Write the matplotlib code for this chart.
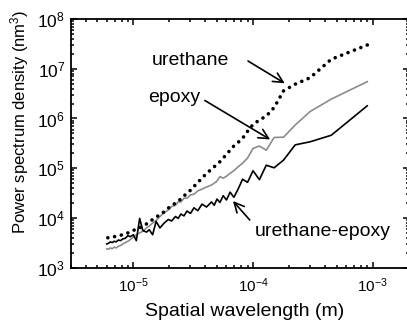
import matplotlib
matplotlib.use('Agg')
from matplotlib import pyplot as plt

plt.rcParams['font.family'] = ['Liberation Sans', 'DejaVu Sans']
plt.rcParams['mathtext.default'] = 'regular'
plt.rcParams['axes.unicode_minus'] = False

# spatial wavelength (m), shared by all three curves
wavelength = [9.0e-4, 4.5e-4, 3.0e-4, 2.25e-4, 1.8e-4, 1.5e-4, 1.29e-4, 1.13e-4, 1.0e-4,
              9.0e-5, 8.18e-5, 7.5e-5, 6.92e-5, 6.43e-5, 6.0e-5, 5.63e-5, 5.29e-5, 5.0e-5,
              4.74e-5, 4.5e-5, 4.09e-5, 3.75e-5, 3.46e-5, 3.21e-5, 3.0e-5, 2.81e-5, 2.65e-5,
              2.5e-5, 2.37e-5, 2.25e-5, 2.09e-5, 1.96e-5, 1.8e-5, 1.67e-5, 1.55e-5, 1.45e-5,
              1.36e-5, 1.29e-5, 1.2e-5, 1.13e-5, 1.06e-5, 1.0e-5, 9.47e-6, 9.0e-6, 8.57e-6,
              8.18e-6, 7.83e-6, 7.5e-6, 7.2e-6, 6.92e-6, 6.67e-6, 6.43e-6, 6.21e-6, 6.0e-6]

# power spectrum density (nm^3)
urethane = [3.0e7, 1.55e7, 6.6e6, 4.9e6, 3.6e6, 1.66e6, 1.12e6, 9.3e5, 7.6e5,
            5.5e5, 4.0e5, 3.3e5, 2.8e5, 2.3e5, 1.9e5, 1.6e5, 1.35e5, 1.2e5,
            1.07e5, 9.5e4, 7.9e4, 6.3e4, 5.2e4, 4.3e4, 3.6e4, 3.2e4, 2.75e4,
            2.4e4, 2.2e4, 2.0e4, 1.74e4, 1.58e4, 1.32e4, 1.15e4, 1.05e4, 9.3e3,
            8.3e3, 7.6e3, 6.9e3, 6.3e3, 6.0e3, 5.6e3, 5.2e3, 5.0e3, 4.8e3,
            4.6e3, 4.5e3, 4.4e3, 4.3e3, 4.2e3, 4.2e3, 4.1e3, 4.0e3, 4.0e3]

epoxy = [5.5e6, 2.45e6, 1.38e6, 7.4e5, 4.2e5, 4.15e5, 2.3e5, 2.8e5, 2.5e5,
         1.6e5, 1.26e5, 1.07e5, 8.9e4, 7.9e4, 6.9e4, 6.3e4, 6.8e4, 5.5e4,
         5.0e4, 4.6e4, 4.2e4, 3.8e4, 3.5e4, 3.0e4, 2.9e4, 2.5e4, 2.5e4,
         2.1e4, 2.1e4, 1.8e4, 1.7e4, 1.45e4, 1.26e4, 1.07e4, 8.9e3, 7.9e3,
         6.9e3, 6.3e3, 5.4e3, 5.0e3, 4.6e3, 4.1e3, 3.7e3, 3.4e3, 3.2e3,
         3.0e3, 2.8e3, 2.7e3, 2.5e3, 2.6e3, 2.4e3, 2.5e3, 2.35e3, 2.4e3]

urethane_epoxy = [1.8e6, 4.6e5, 3.4e5, 2.95e5, 1.46e5, 1.02e5, 1.15e5, 5.9e4, 8.9e4,
                  5.2e4, 6.0e4, 3.8e4, 2.6e4, 3.3e4, 2.3e4, 2.8e4, 2.05e4, 2.4e4,
                  1.8e4, 2.1e4, 1.66e4, 1.9e4, 1.4e4, 1.6e4, 1.23e4, 1.38e4, 1.1e4,
                  1.2e4, 9.8e3, 1.07e4, 8.7e3, 9.3e3, 7.8e3, 6.3e3, 8.5e3, 4.6e3,
                  5.8e3, 5.2e3, 5.6e3, 9.8e3, 3.5e3, 4.6e3, 4.2e3, 4.4e3, 3.9e3,
                  3.8e3, 3.5e3, 3.6e3, 3.3e3, 3.4e3, 3.2e3, 3.3e3, 3.1e3, 3.0e3]

fig = plt.figure(figsize=(4.07, 3.22), dpi=100)
ax = fig.add_axes([70.7 / 407, 1 - 267.7 / 322, (408.8 - 70.7) / 407, (267.7 - 19) / 322])

ax.plot(wavelength, epoxy, color='#8c8c8c', lw=1.2)
ax.plot(wavelength, urethane_epoxy, color='black', lw=1.2)
ax.plot(wavelength, urethane, color='black', lw=2.6, linestyle=(0, (0.01, 1.9)),
        dash_capstyle='round')

ax.set_xscale('log')
ax.set_yscale('log')
ax.set_xlim(3e-6, 2e-3)
ax.set_ylim(1e3, 1e8)

for s in ax.spines.values():
    s.set_linewidth(1.3)
ax.tick_params(which='both', direction='in', top=True, right=True, width=1.1)
ax.tick_params(which='major', length=4.3)
ax.tick_params(which='minor', length=2.5)
ax.tick_params(axis='x', labelsize=11, pad=6)
ax.tick_params(axis='y', labelsize=12.5, pad=4)

ax.set_xlabel('Spatial wavelength (m)', fontsize=14)
ax.set_ylabel('Power spectrum density (nm$^3$)', fontsize=12)
ax.xaxis.set_label_coords(0.513, -0.142)
ax.yaxis.set_label_coords(-0.118, 0.588)

arrow = dict(arrowstyle='->, head_length=0.5, head_width=0.25', lw=1.2, color='black',
             shrinkA=0, shrinkB=0, mutation_scale=14)

ax.text(1.42e-5, 1.19e7, 'urethane', fontsize=14, va='baseline')
ax.annotate('', xy=(1.84e-4, 5.1e6), xytext=(9.08e-5, 1.43e7), arrowprops=arrow)

ax.text(1.33e-5, 2.1e6, 'epoxy', fontsize=14, va='baseline')
ax.annotate('', xy=(1.39e-4, 3.78e5), xytext=(3.96e-5, 2.3e6), arrowprops=arrow)

ax.text(1.03e-4, 4.34e3, 'urethane-epoxy', fontsize=14, va='baseline')
ax.annotate('', xy=(6.8e-5, 2.19e4), xytext=(9.39e-5, 9.1e3), arrowprops=arrow)

fig.savefig('out.png', dpi=100)
